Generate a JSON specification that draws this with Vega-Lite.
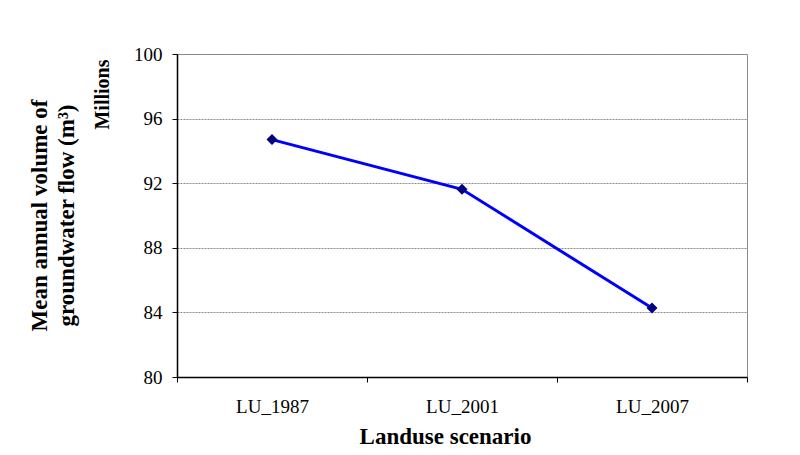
{
  "$schema": "https://vega.github.io/schema/vega-lite/v6.json",
  "width": 570,
  "height": 323,
  "autosize": {"type": "none"},
  "padding": {"left": 177, "top": 54, "right": 53, "bottom": 78},
  "background": "white",
  "config": {
    "font": "Liberation Serif",
    "view": {"stroke": "#8c8c8c", "strokeWidth": 1}
  },
  "title": {
    "text": ["Mean annual volume of", "groundwater flow (m³)"],
    "orient": "left",
    "anchor": "middle",
    "font": "Liberation Serif",
    "fontSize": 23,
    "fontWeight": "bold",
    "color": "black",
    "lineHeight": 27,
    "offset": 14
  },
  "data": {
    "values": [
      {"scenario": "LU_1987", "flow": 94.7},
      {"scenario": "LU_2001", "flow": 91.62},
      {"scenario": "LU_2007", "flow": 84.27}
    ]
  },
  "encoding": {
    "x": {
      "field": "scenario",
      "type": "nominal",
      "scale": {"type": "band", "paddingInner": 0, "paddingOuter": 0},
      "axis": {
        "title": "Landuse scenario",
        "titleFont": "Liberation Serif",
        "titleFontSize": 23,
        "titleFontWeight": "bold",
        "titleColor": "black",
        "titlePadding": 9,
        "titleX": 268,
        "labelAngle": 0,
        "labelFont": "Liberation Serif",
        "labelFontSize": 19,
        "labelColor": "black",
        "labelPadding": 15,
        "tickBand": "extent",
        "tickColor": "black",
        "tickSize": 5,
        "domainColor": "black",
        "domainWidth": 1.5,
        "grid": false
      }
    },
    "y": {
      "field": "flow",
      "type": "quantitative",
      "scale": {"domain": [80, 100], "nice": false, "zero": false},
      "axis": {
        "title": "Millions",
        "titleFont": "Liberation Serif",
        "titleFontSize": 20,
        "titleFontWeight": "bold",
        "titleColor": "black",
        "titleAnchor": "end",
        "titleY": 5,
        "titlePadding": 21,
        "values": [80, 84, 88, 92, 96, 100],
        "labelFont": "Liberation Serif",
        "labelFontSize": 19,
        "labelColor": "black",
        "labelPadding": 10,
        "tickColor": "black",
        "tickSize": 5,
        "domainColor": "black",
        "domainWidth": 1.5,
        "grid": true,
        "gridColor": "#8a8a8a",
        "gridDash": [2, 1],
        "gridWidth": 1
      }
    }
  },
  "layer": [
    {"mark": {"type": "line", "color": "#0000ff", "strokeWidth": 3}},
    {"mark": {"type": "point", "shape": "diamond", "filled": true, "color": "#000080", "size": 120, "opacity": 1}}
  ]
}
